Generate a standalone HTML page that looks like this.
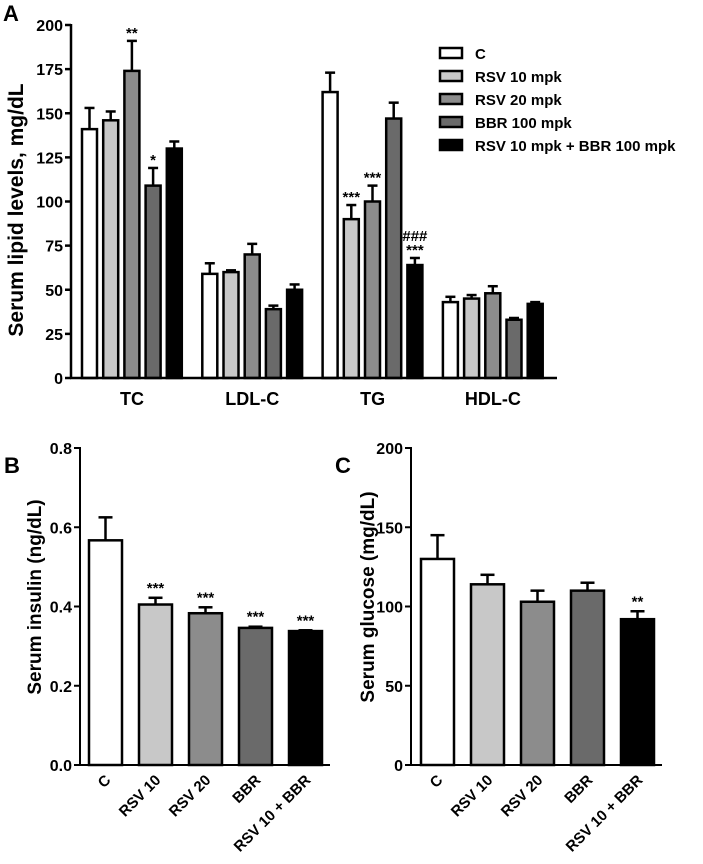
<!DOCTYPE html>
<html><head><meta charset="utf-8"><style>
body{margin:0;background:#fff;}
svg{display:block;font-family:"Liberation Sans",Arial,sans-serif;}
svg text{font-weight:bold;}
</style></head><body>
<svg id="fig" width="703" height="864" viewBox="0 0 703 864"></svg>
<script>
const groupsA = ["TC","LDL-C","TG","HDL-C"];
const seriesNames = ["C","RSV 10 mpk","RSV 20 mpk","BBR 100 mpk","RSV 10 mpk + BBR 100 mpk"];
const valuesA = [[141,146,174,109,130],[59,60,70,39,50],[162,90,100,147,64],[43,45,48,33,42]];
const errorsA = [[153,151,191,119,134],[65,61,76,41,53],[173,98,109,156,68],[46,47,52,34,43]];
const starsA = [["","","**","*",""],["","","","",""],["","***","***","","###\n***"],["","","","",""]];
const ticksA = [0,25,50,75,100,125,150,175,200];
const catsB = ["C","RSV 10","RSV 20","BBR","RSV 10 + BBR"];
const valuesB = [0.567,0.405,0.383,0.346,0.338];
const errorsB = [0.625,0.422,0.398,0.349,0.340];
const starsB = ["","***","***","***","***"];
const ticksB = ["0.0","0.2","0.4","0.6","0.8"];
const valuesC = [130,114,103,110,92];
const errorsC = [145,120,110,115,97];
const starsC = ["","","","","**"];
const ticksC = [0,50,100,150,200];
const fills = ["#ffffff","#c8c8c8","#8c8c8c","#6a6a6a","#000000"];

const svg = document.getElementById('fig');
const NS = "http://www.w3.org/2000/svg";
function mk(tag, attrs, parent){const e=document.createElementNS(NS,tag);for(const k in attrs)e.setAttribute(k,attrs[k]);(parent||svg).appendChild(e);return e;}
function txt(s, attrs, parent){const e=mk('text',attrs,parent);e.textContent=s;return e;}

// ---------- Panel A ----------
const gA = mk('g',{});


const yA = v => 378 - v*(353/200);
const t=txt('A',{x:3,y:21,'font-size':22},gA);

ticksA.forEach(v=>{
  mk('line',{x1:65,x2:71,y1:yA(v),y2:yA(v),stroke:'#000','stroke-width':2.5},gA);
  const l=txt(String(v),{x:63,y:yA(v)+6,'font-size':16,'text-anchor':'end'},gA);
  
});
groupsA.forEach((g,gi)=>{
  const gx = 82 + gi*120.3;
  valuesA[gi].forEach((v,si)=>{
    const x = gx + si*21.2, w=15, cx=x+w/2;
    mk('line',{x1:cx,x2:cx,y1:yA(v),y2:yA(errorsA[gi][si]),stroke:'#000','stroke-width':2.5},gA);
    mk('line',{x1:cx-5,x2:cx+5,y1:yA(errorsA[gi][si]),y2:yA(errorsA[gi][si]),stroke:'#000','stroke-width':2.5},gA);
    const r=mk('rect',{x:x,y:yA(v),width:w,height:yA(0)-yA(v),fill:fills[si],stroke:'#000','stroke-width':2.5},gA);
    
    
    const s=starsA[gi][si];
    if(s){const lines=s.split('\n');lines.reverse().forEach((ln,li)=>{
      const st=txt(ln,{x:cx,y:yA(errorsA[gi][si])-3-li*14,'font-size':15,'text-anchor':'middle'},gA);
      });}
  });
  const c=txt(g,{x:gx+50,y:405,'font-size':18,'text-anchor':'middle'},gA);
  
});
mk('line',{x1:71,x2:71,y1:24,y2:379,stroke:'#000','stroke-width':2.5},gA);
mk('line',{x1:70,x2:557,y1:378,y2:378,stroke:'#000','stroke-width':2.5},gA);
const ylA=txt('Serum lipid levels, mg/dL',{x:0,y:0,'font-size':21,'text-anchor':'middle',transform:'translate(23,210) rotate(-90)'},gA);

seriesNames.forEach((n,i)=>{
  const y=48+i*23;
  const lg=mk('g',{},gA);
  
  
  mk('rect',{x:440,y:y,width:22,height:10,fill:fills[i],stroke:'#000','stroke-width':2.5},lg);
  txt(n,{x:475,y:y+11,'font-size':15},lg);
});

// ---------- Panels B and C ----------
function smallPanel(name, letter, lx, axX, vals, errs, stars, ticks, tmax, ylabel, ylx, barX){
  const g=mk('g',{});
  
  
  const y = v => 765 - v*(317/tmax);
  const L=txt(letter,{x:lx,y:473,'font-size':22},g);
  
  ticks.forEach(tv=>{
    const v=parseFloat(tv);
    mk('line',{x1:axX-6,x2:axX,y1:y(v),y2:y(v),stroke:'#000','stroke-width':2},g);
    const l=txt(String(tv),{x:axX-8,y:y(v)+6,'font-size':16,'text-anchor':'end'},g);
    
  });
  vals.forEach((v,i)=>{
    const x=barX+i*50, w=33, cx=x+w/2;
    mk('line',{x1:cx,x2:cx,y1:y(v),y2:y(errs[i]),stroke:'#000','stroke-width':2.5},g);
    mk('line',{x1:cx-7,x2:cx+7,y1:y(errs[i]),y2:y(errs[i]),stroke:'#000','stroke-width':2.5},g);
    const r=mk('rect',{x:x,y:y(v),width:w,height:y(0)-y(v),fill:fills[i],stroke:'#000','stroke-width':2.5},g);
    
    
    if(stars[i]){const s=txt(stars[i],{x:cx,y:y(errs[i])-5,'font-size':15,'text-anchor':'middle'},g);
      }
    const c=txt(catsB[i],{x:0,y:0,'font-size':15,'text-anchor':'end',transform:'translate('+(cx+6)+',781) rotate(-45)'},g);
    
  });
  mk('line',{x1:axX,x2:axX,y1:447,y2:766,stroke:'#000','stroke-width':2},g);
  mk('line',{x1:axX-1,x2:barX+4*50+41,y1:765,y2:765,stroke:'#000','stroke-width':2},g);
  const yl=txt(ylabel,{x:0,y:0,'font-size':19,'text-anchor':'middle',transform:'translate('+ylx+',597) rotate(-90)'},g);
  
}
smallPanel('panel-b','B',4,80,valuesB,errorsB,starsB,ticksB,0.8,'Serum insulin (ng/dL)',41,89);
smallPanel('panel-c','C',335,411,valuesC,errorsC,starsC,ticksC,200,'Serum glucose (mg/dL)',374,421);
</script>
</body></html>
